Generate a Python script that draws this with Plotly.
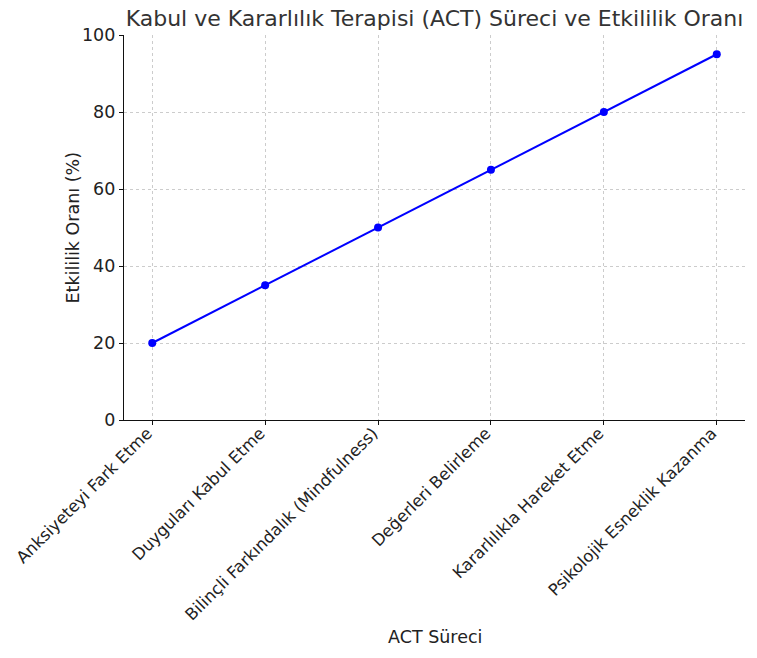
import plotly.graph_objects as go

categories = [
    "Anksiyeteyi Fark Etme",
    "Duyguları Kabul Etme",
    "Bilinçli Farkındalık (Mindfulness)",
    "Değerleri Belirleme",
    "Kararlılıkla Hareket Etme",
    "Psikolojik Esneklik Kazanma",
]
effectiveness = [20, 35, 50, 65, 80, 95]
y_ticks = [0, 20, 40, 60, 80, 100]

W, H = 757, 658
L, R, T, B = 124, 12, 35, 238

fig = go.Figure()
fig.add_trace(go.Scatter(
    x=list(range(len(categories))), y=effectiveness,
    mode="lines+markers",
    line=dict(color="#0000ff", width=2),
    marker=dict(color="#0000ff", size=8),
    showlegend=False,
))

font = "DejaVu Sans, sans-serif"
tick_size = 17.5
xtick_size = 16.5
grid = dict(showgrid=True, gridcolor="#cccccc", griddash="3px,3px", gridwidth=1)
fig.update_layout(
    width=W, height=H,
    margin=dict(l=L, r=R, t=T, b=B, pad=0, autoexpand=False),
    paper_bgcolor="white", plot_bgcolor="white",
    font=dict(family=font, size=tick_size, color="#222"),
    title=dict(
        text="Kabul ve Kararlılık Terapisi (ACT) Süreci ve Etkililik Oranı",
        x=0.5, xref="paper", xanchor="center",
        y=1 - 18 / H, yref="container", yanchor="middle",
        font=dict(family=font, size=22, color="#333"),
    ),
    xaxis=dict(
        range=[-0.25, 5.25], automargin=False,
        tickmode="array", tickvals=list(range(len(categories))), ticktext=categories,
        tickangle=-45,
        ticklabelshift=-5, ticklabelstandoff=-8,
        showline=True, linecolor="#111", linewidth=1.2,
        ticks="outside", ticklen=4, tickcolor="#111",
        zeroline=False,
        tickfont=dict(family=font, size=xtick_size, color="#222"),
        **grid,
    ),
    yaxis=dict(
        range=[0, 100], automargin=False,
        tickmode="array", tickvals=y_ticks,
        showline=True, linecolor="#111", linewidth=1.2,
        ticks="outside", ticklen=4, tickcolor="#111",
        zeroline=False,
        tickfont=dict(family=font, size=tick_size, color="#222"),
        **grid,
    ),
    annotations=[
        dict(text="ACT Süreci", xref="paper", yref="paper",
             x=0.5, y=-(637 - (H - B)) / (H - T - B),
             xanchor="center", yanchor="middle", showarrow=False,
             font=dict(family=font, size=tick_size, color="#222")),
        dict(text="Etkililik Oranı (%)", xref="paper", yref="paper",
             x=-(L - 72) / (W - L - R), y=0.5, textangle=-90,
             xanchor="center", yanchor="middle", showarrow=False,
             font=dict(family=font, size=tick_size, color="#222")),
    ],
)

fig.write_html("out.html", config={"displayModeBar": False},
               post_script="document.body.style.margin='0px';")
